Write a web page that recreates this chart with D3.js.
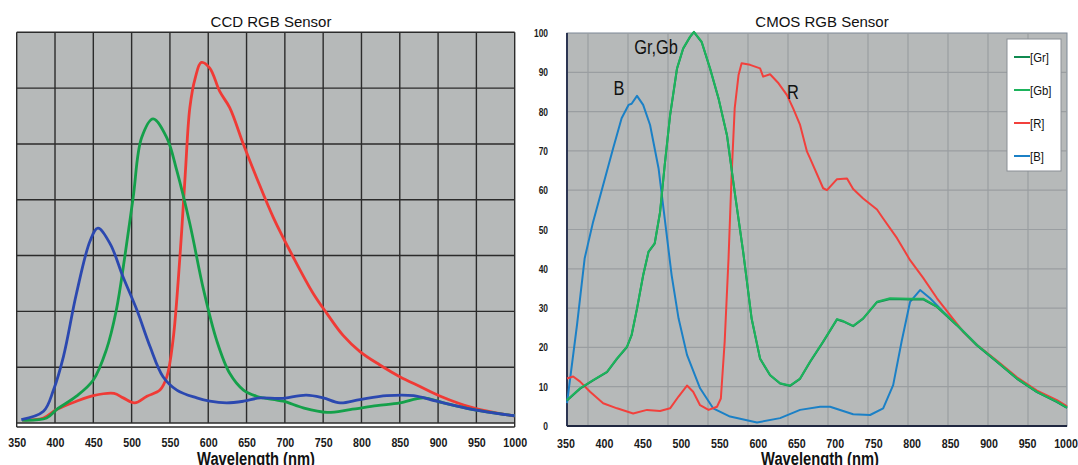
<!DOCTYPE html>
<html><head><meta charset="utf-8">
<script src="https://cdn.jsdelivr.net/npm/d3@7"></script>
<style>
html,body{margin:0;padding:0;background:#fff;}
svg{display:block;}
</style></head>
<body>
<svg id="chart" width="1078" height="465"></svg>
<script>
// ---------- data ----------
const wlTicks = [350,400,450,500,550,600,650,700,750,800,850,900,950,1000];
const cmosYTicks = [0,10,20,30,40,50,60,70,80,90,100];
const ccdGridY = [0,10,20,30,40,50,60,70];
const cmosGridNm = [377.3,429.3,481.3,533.3,585.3,637.3,689.3,741.3,793.3,845.3,897.3,949.3];

// CCD (left) — [wavelength, relative response]
const ccdBlue = [[356,0.6],[385,2.1],[398,5.9],[411,11.9],[428,23.2],[446,32.7],[456,34.9],[472,32.1],[489,26.1],[507,20.2],[524,13.7],[541,8.3],[559,5.9],[585,4.5],[602,3.9],[624,3.6],[646,3.9],[668,4.5],[694,4.4],[728,5.0],[750,4.5],[772,3.6],[798,4.2],[833,4.9],[868,4.9],[898,3.9],[946,2.4],[988,1.5],[1000,1.3]];
const ccdGreen = [[357,0.5],[389,0.9],[402,2.4],[428,4.8],[450,7.7],[467,13.1],[480,20.2],[491,29.7],[502,40.4],[513,51.1],[528,54.5],[546,51.1],[559,45.2],[576,35.7],[594,23.8],[611,14.8],[628,8.9],[646,5.9],[663,4.8],[672,4.5],[698,3.9],[724,2.7],[755,1.9],[785,2.4],[820,3.1],[850,3.6],[881,4.5],[907,3.6],[946,2.4],[988,1.5],[1000,1.3]];
const ccdRed = [[357,0.5],[385,0.9],[402,2.4],[428,3.9],[450,4.9],[477,5.3],[489,4.5],[504,3.6],[520,4.8],[537,5.9],[546,8.3],[554,14.8],[563,29.7],[570,44.6],[576,56.5],[583,61.8],[591,64.6],[602,63.6],[615,59.4],[628,56.5],[646,49.9],[663,44.0],[685,36.8],[711,29.7],[737,23.2],[755,19.6],[776,15.7],[798,12.8],[824,10.4],[850,8.3],[877,6.5],[903,4.8],[946,2.7],[988,1.5],[1000,1.3]];

// CMOS (right)
const cmosB = [[350,5.8],[363,25.7],[373,42.7],[384,52.0],[397,61.3],[410,70.7],[421,78.3],[430,81.7],[434,82.0],[441,84.0],[449,81.7],[458,76.6],[469,65.6],[477,52.8],[486,38.4],[495,27.4],[506,18.1],[523,9.6],[540,4.5],[562,2.4],[597,0.9],[627,2.0],[653,4.1],[679,4.9],[692,4.9],[722,3.0],[744,2.8],[761,4.5],[774,10.4],[785,21.5],[796,31.6],[809,34.6],[822,32.5],[839,29.1],[857,25.7],[883,20.6],[909,16.4],[935,12.1],[961,8.7],[987,6.2],[1000,4.7]];
const cmosGb = [[350,6.6],[367,9.6],[384,11.7],[402,13.8],[415,17.2],[428,20.2],[434,23.2],[441,29.9],[449,38.4],[456,44.4],[464,46.5],[471,54.5],[477,66.4],[484,79.1],[493,91.0],[501,96.1],[510,99.1],[515,100.3],[525,97.8],[536,91.0],[547,83.4],[558,74.0],[568,59.6],[579,44.4],[590,27.4],[601,17.2],[614,13.0],[627,10.9],[640,10.3],[653,12.1],[666,16.4],[683,21.5],[701,27.2],[709,26.7],[722,25.5],[735,27.4],[753,31.6],[770,32.5],[796,32.4],[813,32.4],[831,30.4],[857,25.7],[883,20.6],[909,16.4],[935,12.1],[961,8.7],[987,6.2],[1000,4.7]];
const cmosGr = [[350,6.5],[367,9.5],[384,11.6],[402,13.7],[415,17.1],[428,20.1],[434,23.1],[441,29.8],[449,38.3],[456,44.3],[464,46.4],[471,54.4],[477,66.3],[484,79.0],[493,90.9],[501,96.0],[510,99.0],[515,100.2],[525,97.7],[536,90.9],[547,83.3],[558,73.9],[568,59.5],[579,44.3],[590,27.3],[601,17.1],[614,12.9],[627,10.8],[640,10.2],[653,12.0],[666,16.3],[683,21.4],[701,27.1],[709,26.6],[722,25.4],[735,27.3],[753,31.5],[770,32.3],[796,32.2],[813,32.2],[831,30.3],[857,25.6],[883,20.5],[909,16.3],[935,12.0],[961,8.6],[987,6.1],[1000,4.6]];
const cmosR = [[350,12.1],[358,12.6],[367,11.3],[380,8.7],[397,5.8],[415,4.5],[436,3.2],[454,4.1],[471,3.8],[484,4.5],[495,7.5],[506,10.3],[514,8.7],[523,5.3],[534,4.1],[545,4.9],[550,7.0],[555,21.5],[560,42.7],[564,63.9],[568,80.8],[573,89.3],[577,92.3],[588,91.9],[601,91.0],[605,88.9],[614,89.5],[625,87.2],[636,84.2],[644,80.8],[653,76.6],[662,69.8],[666,68.1],[683,60.5],[688,60.0],[701,62.8],[714,63.0],[722,60.3],[735,57.9],[753,55.1],[761,52.8],[779,47.8],[796,42.2],[813,37.7],[831,32.5],[848,28.2],[865,24.0],[883,20.6],[909,16.6],[935,12.4],[961,9.0],[987,6.6],[1000,5.0]];

const legendNames = ["[Gr]","[Gb]","[R]","[B]"];
const annotations = [{t:"B", x:417.6, y:84.2}, {t:"Gr,Gb", x:465.7, y:94.7}, {t:"R", x:643.8, y:83.2}];

// ---------- drawing ----------
const svg = d3.select("#chart");
const SANS = "'Liberation Sans',Arial,Helvetica,sans-serif";
const SQ = 0.82; // horizontal condensing of the original's narrow type

function condense(sel, k) {
  sel.each(function(){
    const w = this.getComputedTextLength();
    d3.select(this).attr("textLength", (w * k).toFixed(2)).attr("lengthAdjust","spacingAndGlyphs");
  });
  return sel;
}
function ctext(g, x, y, str, opts) {
  const t = g.append("text")
    .attr("x", x).attr("y", y)
    .attr("text-anchor", opts.anchor || "middle")
    .attr("font-family", SANS)
    .attr("font-size", opts.size)
    .attr("font-weight", opts.weight || "normal")
    .attr("fill", opts.fill || "#111")
    .text(str);
  condense(t, opts.sq || SQ);
  return t;
}

// ===== LEFT: CCD =====
const L = {x0:16.7, x1:514.7, y0:32.3, y1:423};
const xL = d3.scaleLinear().domain([350,1000]).range([L.x0, L.x1]);
const yL = d3.scaleLinear().domain([0,70]).range([L.y1, L.y0]);
const gL = svg.append("g");
gL.append("rect").attr("x",L.x0).attr("y",L.y0).attr("width",L.x1-L.x0).attr("height",L.y1-L.y0).attr("fill","#b6b9b9");
gL.selectAll("line.v").data(wlTicks).join("line")
  .attr("x1",d=>xL(d)).attr("x2",d=>xL(d)).attr("y1",L.y0).attr("y2",L.y1)
  .attr("stroke","#2b2b2b").attr("stroke-width",1.4);
gL.selectAll("line.h").data(ccdGridY).join("line")
  .attr("x1",L.x0).attr("x2",L.x1).attr("y1",d=>yL(d)).attr("y2",d=>yL(d))
  .attr("stroke","#2b2b2b").attr("stroke-width",1.4);
gL.append("line").attr("x1",L.x0).attr("x2",L.x1).attr("y1",L.y1+4).attr("y2",L.y1+4).attr("stroke","#2b2b2b").attr("stroke-width",1.6);
gL.append("line").attr("x1",L.x0).attr("x2",L.x0).attr("y1",L.y1).attr("y2",L.y1+4).attr("stroke","#2b2b2b").attr("stroke-width",1.4);
gL.append("line").attr("x1",L.x1).attr("x2",L.x1).attr("y1",L.y1).attr("y2",L.y1+4).attr("stroke","#2b2b2b").attr("stroke-width",1.4);

const lineL = d3.line().x(d=>xL(d[0])).y(d=>yL(d[1])).curve(d3.curveCatmullRom.alpha(0.5));
[[ccdRed,"#f03a35"],[ccdGreen,"#14a04a"],[ccdBlue,"#2b48b0"]].forEach(([d,c])=>{
  gL.append("path").datum(d).attr("d",lineL).attr("fill","none").attr("stroke",c).attr("stroke-width",2.8).attr("stroke-linejoin","round");
});
// x-axis labels
const axL = d3.axisBottom(xL).tickValues(wlTicks).tickSize(0).tickPadding(0).tickFormat(d3.format("d"));
const axLg = svg.append("g").attr("transform",`translate(0,${L.y1+24})`).call(axL);
axLg.select(".domain").remove();
condense(axLg.selectAll("text").attr("dy",0).attr("font-family",SANS).attr("font-weight","bold").attr("font-size",13).attr("fill","#1a1a1a"), SQ);
svg.append("text").attr("x",271).attr("y",27).attr("text-anchor","middle").attr("font-family",SANS).attr("font-size",15).attr("fill","#111").text("CCD RGB Sensor");
ctext(svg, 256, 465, "Wavelength (nm)", {size:17.5, weight:"bold", sq:0.84});

// ===== RIGHT: CMOS =====
const R = {x0:567, x1:1067, y0:33, y1:426};
const xR = d3.scaleLinear().domain([350,1000]).range([R.x0, R.x1]);
const yR = d3.scaleLinear().domain([0,100]).range([R.y1, R.y0]);
const gR = svg.append("g");
gR.append("rect").attr("x",R.x0).attr("y",R.y0).attr("width",R.x1-R.x0).attr("height",R.y1-R.y0).attr("fill","#b6b9b9").attr("stroke","#7d8896").attr("stroke-width",1);
gR.selectAll("line.v").data(cmosGridNm).join("line")
  .attr("x1",d=>xR(d)).attr("x2",d=>xR(d)).attr("y1",R.y0).attr("y2",R.y1)
  .attr("stroke","#9a9ea1").attr("stroke-width",1.2);
gR.selectAll("line.h").data(cmosYTicks.slice(1,-1)).join("line")
  .attr("x1",R.x0).attr("x2",R.x1).attr("y1",d=>yR(d)).attr("y2",d=>yR(d))
  .attr("stroke","#9a9ea1").attr("stroke-width",1.2);
gR.append("line").attr("x1",R.x0).attr("x2",R.x0).attr("y1",R.y0).attr("y2",R.y1).attr("stroke","#2c3552").attr("stroke-width",2);
gR.append("line").attr("x1",R.x0).attr("x2",R.x1).attr("y1",R.y1).attr("y2",R.y1).attr("stroke","#1f2740").attr("stroke-width",2.2);

const lineR = d3.line().x(d=>xR(d[0])).y(d=>yR(d[1]));
[[cmosB,"#1b80c6"],[cmosR,"#f2403c"],[cmosGr,"#108a50"],[cmosGb,"#1db35c"]].forEach(([d,c])=>{
  gR.append("path").datum(d).attr("d",lineR).attr("fill","none").attr("stroke",c).attr("stroke-width",2).attr("stroke-linejoin","round");
});
// annotations
annotations.forEach(a => ctext(gR, xR(a.x), yR(a.y), a.t, {size:20}));

// legend
const legColors = ["#108a50","#1db35c","#f2403c","#1b80c6"];
const lg = svg.append("g");
lg.append("rect").attr("x",1007).attr("y",39).attr("width",54).attr("height",132).attr("fill","#fff").attr("stroke","#8a8f96").attr("stroke-width",1);
const ly = d3.scalePoint().domain(legendNames).range([57,156]);
legendNames.forEach((n,i)=>{
  lg.append("line").attr("x1",1014).attr("x2",1030).attr("y1",ly(n)).attr("y2",ly(n)).attr("stroke",legColors[i]).attr("stroke-width",2);
  ctext(lg, 1030, ly(n)+4.5, n, {size:13, anchor:"start", sq:0.87});
});

// axes labels
const axRb = d3.axisBottom(xR).tickValues(wlTicks).tickSize(0).tickPadding(0).tickFormat(d3.format("d"));
const axRbg = svg.append("g").attr("transform",`translate(-1.5,${R.y1+22})`).call(axRb);
axRbg.select(".domain").remove();
condense(axRbg.selectAll("text").attr("dy",0).attr("font-family",SANS).attr("font-weight","bold").attr("font-size",13).attr("fill","#1a1a1a"), SQ);
const axRl = d3.axisLeft(yR).tickValues(cmosYTicks).tickSize(0).tickPadding(0).tickFormat(d3.format("d"));
const axRlg = svg.append("g").attr("transform",`translate(548,0)`).call(axRl);
axRlg.select(".domain").remove();
condense(axRlg.selectAll("text").attr("dy","0.35em").attr("font-family",SANS).attr("font-weight","bold").attr("font-size",10).attr("fill","#1a1a1a"), 0.84);

svg.append("text").attr("x",822).attr("y",27).attr("text-anchor","middle").attr("font-family",SANS).attr("font-size",15).attr("fill","#111").text("CMOS RGB Sensor");
ctext(svg, 820, 465, "Wavelength (nm)", {size:17.5, weight:"bold", sq:0.84});
</script>
</body></html>
